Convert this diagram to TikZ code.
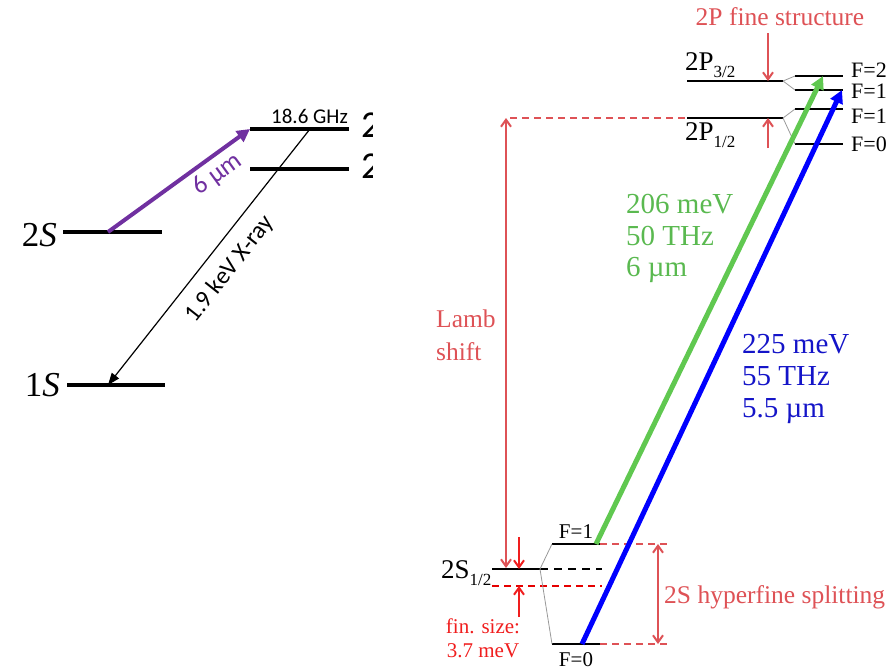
\documentclass[tikz,border=0pt]{standalone}
\usepackage{fontspec}
\setmainfont{Liberation Serif}
\setsansfont{Carlito}
\usetikzlibrary{arrows.meta}
\definecolor{lred}{RGB}{222,82,86}
\definecolor{fred}{RGB}{240,30,30}
\definecolor{lgreen}{RGB}{96,200,80}
\definecolor{tgreen}{RGB}{90,185,80}
\definecolor{lblue}{RGB}{0,0,255}
\definecolor{tblue}{RGB}{20,20,200}
\definecolor{lpurple}{RGB}{112,48,160}
\begin{document}
\begin{tikzpicture}[x=1pt,y=-1pt,
  lvl/.style={line width=4pt},
  plvl/.style={line width=2.6pt},
  thinl/.style={gray!80, line width=0.8pt},
  rdash/.style={lred, line width=2pt, dash pattern=on 7pt off 5pt},
  kdash/.style={black, line width=2.6pt, dash pattern=on 8pt off 6pt},
  rarr/.style={lred, line width=2pt, -{Straight Barb[length=7pt,width=10pt]}},
  rdarr/.style={lred, line width=2pt, {Straight Barb[length=7pt,width=10pt]}-{Straight Barb[length=7pt,width=10pt]}},
  farr/.style={fred, line width=2pt, -{Straight Barb[length=7pt,width=10pt]}},
  big/.style={inner sep=0pt, font=\fontsize{35}{35}\selectfont},
  cut/.style={inner sep=0pt, font=\sffamily\fontsize{38}{38}\selectfont},
  ssf/.style={inner sep=0pt, font=\sffamily\fontsize{21}{21}\selectfont},
  rtxt/.style={inner sep=0pt, text=lred, font=\fontsize{25.5}{25.5}\selectfont},
  ftxt/.style={inner sep=0pt, font=\fontsize{22}{22}\selectfont},
  gtxt/.style={inner sep=0pt, text=tgreen, font=\fontsize{29}{29}\selectfont, anchor=base west},
  btxt/.style={inner sep=0pt, text=tblue, font=\fontsize{29}{29}\selectfont, anchor=base west},
]
\useasboundingbox (0,0) rectangle (895,670);

% ---------------- left panel ----------------
\coordinate (s2a) at (63,232); \coordinate (s2b) at (162,232);
\coordinate (s1a) at (67,385); \coordinate (s1b) at (165,385);
\coordinate (pa1) at (250,129); \coordinate (pb1) at (349,129);
\coordinate (pa2) at (250,169); \coordinate (pb2) at (349,169);
\draw[lvl] (s2a) -- (s2b);
\draw[lvl] (s1a) -- (s1b);
\draw[lvl] (pa1) -- (pb1);
\draw[lvl] (pa2) -- (pb2);
\node[big, anchor=base east] (l2s) at (57,246) {2\textit{S}};
\node[big, anchor=base east] (l1s) at (60,396) {1\textit{S}};
\node[ssf, anchor=base east] (ghz) at (348,123) {18.6 GHz};
\begin{scope}
  \clip (355,100) rectangle (372,200);
  \node[cut, anchor=base west] (c1) at (361,137) {2};
  \node[cut, anchor=base west] (c2) at (361,178) {2};
\end{scope}
\coordinate (pst) at (108,232);
\coordinate (xst) at (310,129);
\coordinate (xen) at (108,385);
\draw[lpurple, line width=4pt, -{Triangle[length=13pt,width=13pt]}] (pst) -- (pa1)
  node[pos=0.7, sloped, below=5pt, text=lpurple, font=\sffamily\fontsize{26}{26}\selectfont, inner sep=0pt] (mu6) {6 µm};
\draw[black, line width=1.2pt, -{Triangle[length=12pt,width=9pt]}] (xst) -- (xen)
  node[pos=0.49, sloped, below=13pt, font=\sffamily\fontsize{24.5}{24.5}\selectfont, inner sep=0pt] (xray) {1.9 keV X-ray};

% ---------------- right panel: 2P ----------------
\coordinate (p32a) at (687,81); \coordinate (p32b) at (783,81);
\coordinate (p12a) at (687,118); \coordinate (p12b) at (783,118);
\coordinate (f2a) at (795,76); \coordinate (f2b) at (843,76);
\coordinate (f1aa) at (795,90); \coordinate (f1ab) at (843,90);
\coordinate (f1ba) at (795,109); \coordinate (f1bb) at (843,109);
\coordinate (f0a) at (795,144); \coordinate (f0b) at (843,144);
\draw[plvl] (p32a) -- (p32b);
\draw[plvl] (p12a) -- (p12b);
\draw[plvl] (f2a) -- (f2b);
\draw[plvl] (f1aa) -- (f1ab);
\draw[plvl] (f1ba) -- (f1bb);
\draw[plvl] (f0a) -- (f0b);
\draw[thinl] (p32b) -- (f2a);
\draw[thinl] (p32b) -- (f1aa);
\draw[thinl] (p12b) -- (f1ba);
\draw[thinl] (p12b) -- (f0a);
\node[ftxt, anchor=base west] (lf2) at (851,77) {F=2};
\node[ftxt, anchor=base west] (lf1a) at (851,98) {F=1};
\node[ftxt, anchor=base west] (lf1b) at (851,123) {F=1};
\node[ftxt, anchor=base west] (lf0) at (851,151) {F=0};
\node[inner sep=0pt, anchor=base west, font=\fontsize{27}{27}\selectfont] (l2p32) at (685,70) {2P\raisebox{-7pt}{\fontsize{17}{17}\selectfont 3/2}};
\node[inner sep=0pt, anchor=base west, font=\fontsize{27}{27}\selectfont] (l2p12) at (685,140) {2P\raisebox{-7pt}{\fontsize{17}{17}\selectfont 1/2}};
\node[rtxt, anchor=base] (fst) at (780,25) {2P fine structure};
\coordinate (fsa) at (768,33); \coordinate (fsb) at (768,81);
\coordinate (fsc) at (768,148); \coordinate (fsd) at (768,118);
\draw[rarr] (fsa) -- (fsb);
\draw[rarr] (fsc) -- (fsd);

% ---------------- Lamb shift ----------------
\coordinate (lt) at (506,118); \coordinate (lb) at (506,568);
\coordinate (ld) at (510,118);
\draw[rdash] (ld) -- (p12a);
\draw[rdarr] (lb) -- (lt);
\node[rtxt, anchor=base west] (lamb1) at (436,327) {Lamb};
\node[rtxt, anchor=base west] (lamb2) at (436,360) {shift};

% ---------------- 2S ----------------
\coordinate (s12a) at (492,569); \coordinate (s12b) at (540,569);
\coordinate (s12c) at (602,569);
\coordinate (fsza) at (492,586); \coordinate (fszb) at (602,586);
\draw[plvl] (s12a) -- (s12b);
\draw[kdash] (s12b) -- (s12c);
\draw[rdash, red!90!black] (fsza) -- (fszb);
\node[inner sep=0pt, anchor=base west, font=\fontsize{27}{27}\selectfont] (l2s12) at (441,578) {2S\raisebox{-7pt}{\fontsize{17}{17}\selectfont 1/2}};
\coordinate (fa1) at (519,537); \coordinate (fa2) at (519,569);
\coordinate (fa3) at (519,617); \coordinate (fa4) at (519,586);
\draw[farr] (fa1) -- (fa2);
\draw[farr] (fa3) -- (fa4);
\node[ftxt, text=fred, font=\fontsize{21}{21}\selectfont, anchor=base] (fin1) at (483,633) {fin. size:};
\node[ftxt, text=fred, font=\fontsize{21}{21}\selectfont, anchor=base] (fin2) at (483,657) {3.7 meV};

\coordinate (hf1a) at (552,544); \coordinate (hf1b) at (600,544);
\coordinate (hf0a) at (552,644); \coordinate (hf0b) at (600,644);
\draw[plvl] (hf1a) -- (hf1b);
\draw[plvl] (hf0a) -- (hf0b);
\draw[thinl] (s12b) -- (hf1a);
\draw[thinl] (s12b) -- (hf0a);
\node[ftxt, font=\fontsize{21}{21}\selectfont, anchor=base] (lhf1) at (576,538) {F=1};
\node[ftxt, font=\fontsize{21}{21}\selectfont, anchor=base] (lhf0) at (576,666) {F=0};
\coordinate (hd1) at (668,544); \coordinate (hd0) at (668,644);
\draw[rdash] (hf1b) -- (hd1);
\draw[rdash] (hf0b) -- (hd0);
\coordinate (ha1) at (658,544); \coordinate (ha0) at (658,644);
\draw[rdarr] (ha1) -- (ha0);
\node[rtxt, anchor=base west] (hfs) at (664,603) {2S hyperfine splitting};

% ---------------- transitions ----------------
\coordinate (gst) at (596,544); \coordinate (gen) at (823,76);
\coordinate (bst) at (582,644); \coordinate (ben) at (842,90);
\draw[lgreen, line width=5pt, -{Triangle[length=13pt,width=13pt]}] (gst) -- (gen);
\draw[lblue, line width=5pt, -{Triangle[length=13pt,width=13pt]}] (bst) -- (ben);
\node[gtxt] (g1) at (626,213) {206 meV};
\node[gtxt] (g2) at (626,245) {50 THz};
\node[gtxt] (g3) at (626,276) {6 µm};
\node[btxt] (b1) at (742,353) {225 meV};
\node[btxt] (b2) at (742,385) {55 THz};
\node[btxt] (b3) at (742,417) {5.5 µm};
\end{tikzpicture}
\end{document}
